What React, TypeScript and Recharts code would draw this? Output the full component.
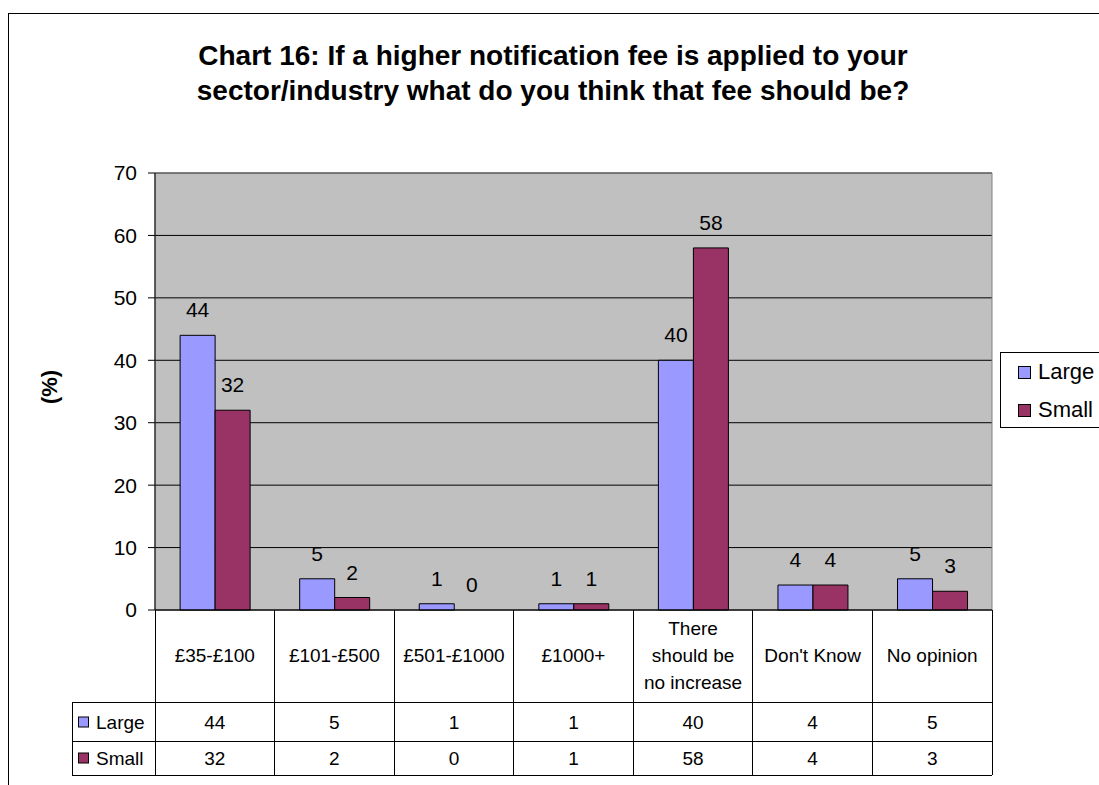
import React from 'react';
import { BarChart, Bar, XAxis, YAxis, CartesianGrid, LabelList, ReferenceArea, Rectangle } from 'recharts';

const categories = ['£35-£100', '£101-£500', '£501-£1000', '£1000+', 'There should be no increase', "Don't Know", 'No opinion'];
const categoryLines = [['£35-£100'], ['£101-£500'], ['£501-£1000'], ['£1000+'], ['There', 'should be', 'no increase'], ["Don't Know"], ['No opinion']];
const largeValues = [44, 5, 1, 1, 40, 4, 5];
const smallValues = [32, 2, 0, 1, 58, 4, 3];
const seriesNames = ['Large', 'Small'];
const seriesColors = ['#9999FF', '#993366'];
const seriesValues = [largeValues, smallValues];
const yTicks = [0, 10, 20, 30, 40, 50, 60, 70];
const titleLines = ['Chart 16: If a higher notification fee is applied to your', 'sector/industry what do you think that fee should be?'];
const yLabel = '(%)';

const data = categories.map((c, i) => ({ cat: c, Large: largeValues[i], Small: smallValues[i] }));

const FONT = 'Arial, "Liberation Sans", sans-serif';

function BarShape(props: any) {
  if (!props.height || Math.abs(props.height) < 1) return null;
  return <Rectangle {...props} />;
}

function TableTick(props: any) {
  const { x, y, payload, width } = props;
  const idx = payload.index;
  const half = payload.offset ? payload.offset : width / categories.length / 2;
  const left = x - half;
  const right = x + half;
  const top = y;
  const r1 = top + 92;
  const r2 = top + 131;
  const r3 = top + 165;
  const lines = categoryLines[idx] || [String(payload.value)];
  const lh = 27;
  const cy = top + 45;
  const rowCenters = [top + 112, top + 148];
  const headLeft = 72;
  return (
    <g>
      <line x1={left} y1={top} x2={left} y2={r3} stroke="#000" strokeWidth={1} shapeRendering="crispEdges" />
      <line x1={right} y1={top} x2={right} y2={r3} stroke="#000" strokeWidth={1} shapeRendering="crispEdges" />
      <line x1={left} y1={r1} x2={right} y2={r1} stroke="#000" strokeWidth={1} shapeRendering="crispEdges" />
      <line x1={left} y1={r2} x2={right} y2={r2} stroke="#000" strokeWidth={1} shapeRendering="crispEdges" />
      <line x1={left} y1={r3} x2={right} y2={r3} stroke="#000" strokeWidth={1} shapeRendering="crispEdges" />
      {lines.map((ln, i) => (
        <text key={i} x={x} y={cy + (i - (lines.length - 1) / 2) * lh} dy="0.35em" textAnchor="middle" fontSize={19} fontFamily={FONT} fill="#000">
          {ln}
        </text>
      ))}
      {seriesValues.map((vals, s) => (
        <text key={'v' + s} x={x} y={rowCenters[s]} dy="0.35em" textAnchor="middle" fontSize={19} fontFamily={FONT} fill="#000">
          {vals[idx]}
        </text>
      ))}
      {idx === 0 && (
        <g>
          <line x1={headLeft} y1={r1} x2={left} y2={r1} stroke="#000" strokeWidth={1} shapeRendering="crispEdges" />
          <line x1={headLeft} y1={r2} x2={left} y2={r2} stroke="#000" strokeWidth={1} shapeRendering="crispEdges" />
          <line x1={headLeft} y1={r3} x2={left} y2={r3} stroke="#000" strokeWidth={1} shapeRendering="crispEdges" />
          <line x1={headLeft} y1={r1} x2={headLeft} y2={r3} stroke="#000" strokeWidth={1} shapeRendering="crispEdges" />
          {seriesNames.map((n, s) => (
            <g key={'h' + s}>
              <rect x={78.5} y={rowCenters[s] - 5} width={10} height={10} fill={seriesColors[s]} stroke="#000" strokeWidth={1} />
              <text x={96} y={rowCenters[s]} dy="0.35em" textAnchor="start" fontSize={19} fontFamily={FONT} fill="#000">
                {n}
              </text>
            </g>
          ))}
        </g>
      )}
    </g>
  );
}

export default function App() {
  return (
    <div style={{ position: 'absolute', left: 0, top: 0, width: 1099, height: 785, overflow: 'hidden', background: '#fff', fontFamily: FONT }}>
      <div style={{ position: 'absolute', left: 8, top: 13, width: 1200, height: 900, border: '1px solid #000', boxSizing: 'border-box' }} />
      <div style={{ position: 'absolute', left: 0, top: 0 }}>
        <BarChart
          width={1099}
          height={785}
          data={data}
          margin={{ top: 173, right: 107, bottom: 10, left: 95 }}
          barCategoryGap="21%"
          barGap={0}
        >
          <CartesianGrid vertical={false} stroke="#000" fill="#C0C0C0" fillOpacity={1} />
          <ReferenceArea y1={0} y2={70} fill="none" stroke="#808080" strokeWidth={1} />
          <XAxis
            dataKey="cat"
            type="category"
            height={165}
            interval={0}
            tickLine={false}
            tickSize={0}
            tickMargin={0}
            axisLine={{ stroke: '#000', strokeWidth: 1 }}
            tick={<TableTick />}
          />
          <YAxis
            type="number"
            domain={[0, 70]}
            ticks={yTicks}
            width={60}
            interval={0}
            tickSize={7}
            tickMargin={11}
            axisLine={{ stroke: '#000', strokeWidth: 1 }}
            tickLine={{ stroke: '#000', strokeWidth: 1 }}
            tick={{ fontSize: 21, fill: '#000', fontFamily: FONT }}
          />
          {seriesNames.map((n, s) => (
            <Bar
              key={n}
              dataKey={n}
              fill={seriesColors[s]}
              stroke="#000"
              strokeWidth={1}
              minPointSize={0.5}
              shape={<BarShape />}
              isAnimationActive={false}
            >
              <LabelList dataKey={n} position="top" offset={18} fontSize={21} fill="#000" fontFamily={FONT} />
            </Bar>
          ))}
        </BarChart>
      </div>
      <div style={{ position: 'absolute', left: 103, top: 38, width: 900, textAlign: 'center', fontWeight: 'bold', fontSize: 28, lineHeight: '35px', color: '#000' }}>
        {titleLines.map((t, i) => (
          <div key={i}>{t}</div>
        ))}
      </div>
      <div style={{ position: 'absolute', left: 0, top: 372, width: 100, height: 30, lineHeight: '30px', textAlign: 'center', fontWeight: 'bold', fontSize: 22, transform: 'rotate(-90deg)', color: '#000' }}>
        {yLabel}
      </div>
      <div style={{ position: 'absolute', left: 1000, top: 352, width: 120, height: 76, border: '1px solid #000', boxSizing: 'border-box', background: '#fff' }}>
        {seriesNames.map((n, s) => (
          <div key={n} style={{ position: 'absolute', left: 0, top: s === 0 ? 6 : 44, height: 26, display: 'flex', alignItems: 'center' }}>
            <span style={{ display: 'inline-block', marginLeft: 17, width: 13, height: 13, boxSizing: 'border-box', border: '1px solid #000', background: seriesColors[s] }} />
            <span style={{ marginLeft: 7, fontSize: 22, lineHeight: '26px', color: '#000' }}>{n}</span>
          </div>
        ))}
      </div>
    </div>
  );
}
